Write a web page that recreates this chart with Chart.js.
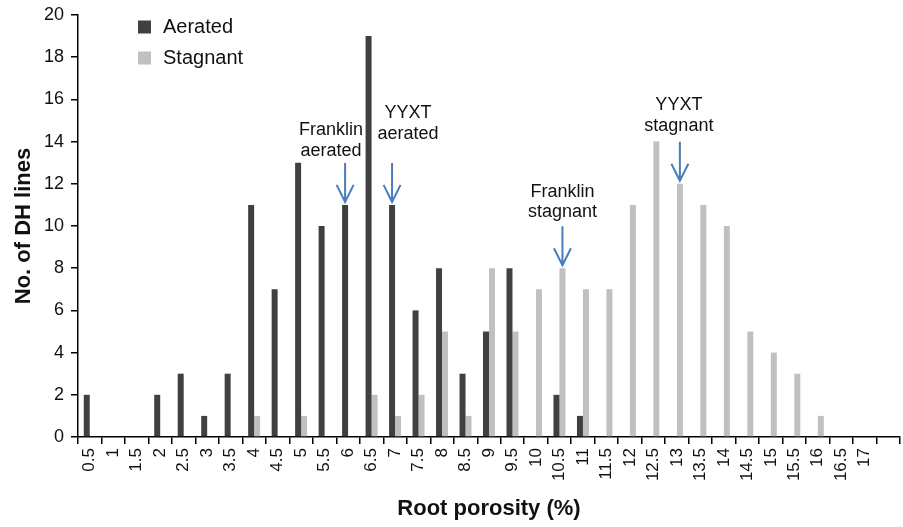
<!DOCTYPE html>
<html><head><meta charset="utf-8">
<script src="https://cdn.jsdelivr.net/npm/chart.js@4"></script>
<style>html,body{margin:0;padding:0;background:#fff}canvas{display:block}</style>
</head><body>
<canvas id="c" width="903" height="527"></canvas>
<script>
const categories = ['0.5','1','1.5','2','2.5','3','3.5','4','4.5','5','5.5','6','6.5','7','7.5','8','8.5','9','9.5','10','10.5','11','11.5','12','12.5','13','13.5','14','14.5','15','15.5','16','16.5','17',''];
const aerated  = [2,0,0,2,3,1,3,11,7,13,10,11,19,11,6,8,3,5,8,0,2,1,0,0,0,0,0,0,0,0,0,0,0,0,0];
const stagnant = [0,0,0,0,0,0,0,1,0,1,0,0,2,1,2,5,1,8,5,7,8,7,7,11,14,12,11,10,5,4,3,1,0,0,0];
const yTicks = [0,2,4,6,8,10,12,14,16,18,20];
const seriesNames = ['Aerated','Stagnant'];
const annotations = [
  {text:['Franklin','aerated'], category:'6', series:0, dx:-14, dy:-12},
  {text:['YYXT','aerated'], category:'7', series:0, dx:16, dy:-29},
  {text:['Franklin','stagnant'], category:'10.5', series:1, dx:0, dy:-14},
  {text:['YYXT','stagnant'], category:'13', series:1, dx:-1, dy:-16}
];

const FONT = '"Liberation Sans", Arial, Helvetica, sans-serif';

const legendPlugin = {
  id:'inlineLegend',
  afterDraw(chart){
    const ctx = chart.ctx;
    ctx.save();
    ctx.font = '20px ' + FONT;
    ctx.textBaseline = 'middle';
    ctx.textAlign = 'left';
    chart.data.datasets.forEach((ds,i)=>{
      const y = 27 + i*31;
      ctx.fillStyle = ds.backgroundColor;
      ctx.fillRect(138, y-6.5, 13, 13);
      ctx.fillStyle = '#111';
      ctx.fillText(ds.label, 163, y);
    });
    ctx.restore();
  }
};

const arrowPlugin = {
  id:'arrows',
  afterDatasetsDraw(chart){
    const ctx = chart.ctx;
    ctx.save();
    annotations.forEach(a=>{
      const idx = chart.data.labels.indexOf(a.category);
      const bar = chart.getDatasetMeta(a.series).data[idx];
      const x = bar.x;
      const tip = bar.y - 3;
      const top = tip - 39;
      ctx.strokeStyle = '#4a7ebb';
      ctx.lineWidth = 2;
      ctx.beginPath();
      ctx.moveTo(x, top); ctx.lineTo(x, tip);
      ctx.moveTo(x-8.5, tip-17); ctx.lineTo(x, tip); ctx.lineTo(x+8.5, tip-17);
      ctx.stroke();
      ctx.fillStyle = '#111';
      ctx.font = '18px ' + FONT;
      ctx.textAlign = 'center';
      ctx.textBaseline = 'middle';
      const n = a.text.length;
      a.text.forEach((t,k)=>{
        ctx.fillText(t, x + a.dx, top + a.dy - (n-1-k)*20.5);
      });
    });
    ctx.restore();
  }
};

new Chart(document.getElementById('c'), {
  type:'bar',
  data:{
    labels: categories,
    datasets:[
      {label:seriesNames[0], data:aerated, backgroundColor:'#404040', categoryPercentage:0.51, barPercentage:1.0},
      {label:seriesNames[1], data:stagnant, backgroundColor:'#c0c0c0', categoryPercentage:0.51, barPercentage:1.0}
    ]
  },
  options:{
    responsive:false,
    animation:false,
    layout:{padding:{left:0, right:3, top:15, bottom:0}},
    plugins:{legend:{display:false}, tooltip:{enabled:false}},
    scales:{
      x:{
        offset:true,
        grid:{offset:true, drawOnChartArea:false, drawTicks:true, tickLength:7, color:'#000', lineWidth:1.5},
        border:{color:'#000', width:1.5},
        ticks:{autoSkip:false, maxRotation:90, minRotation:90, padding:4, color:'#111', font:{family:FONT, size:17}},
        title:{display:true, text:'Root porosity (%)', color:'#111', font:{family:FONT, size:22, weight:'bold'}, padding:{top:0, bottom:5}},
        afterFit(s){ s.height = 90; s.paddingLeft = 0; s.paddingRight = 0; }
      },
      y:{
        min:0, max:20,
        afterBuildTicks(s){ s.ticks = yTicks.map(v=>({value:v})); },
        grid:{drawOnChartArea:false, drawTicks:true, tickLength:7, color:'#000', lineWidth:1.5},
        border:{color:'#000', width:1.5},
        ticks:{padding:7, color:'#111', font:{family:FONT, size:18}},
        title:{display:true, text:'No. of DH lines', color:'#111', font:{family:FONT, size:22, weight:'bold'}, padding:{top:11, bottom:0}},
        afterFit(s){ s.width = 78; s.paddingTop = 0; s.paddingBottom = 0; }
      }
    }
  },
  plugins:[legendPlugin, arrowPlugin]
});
</script>
</body></html>
